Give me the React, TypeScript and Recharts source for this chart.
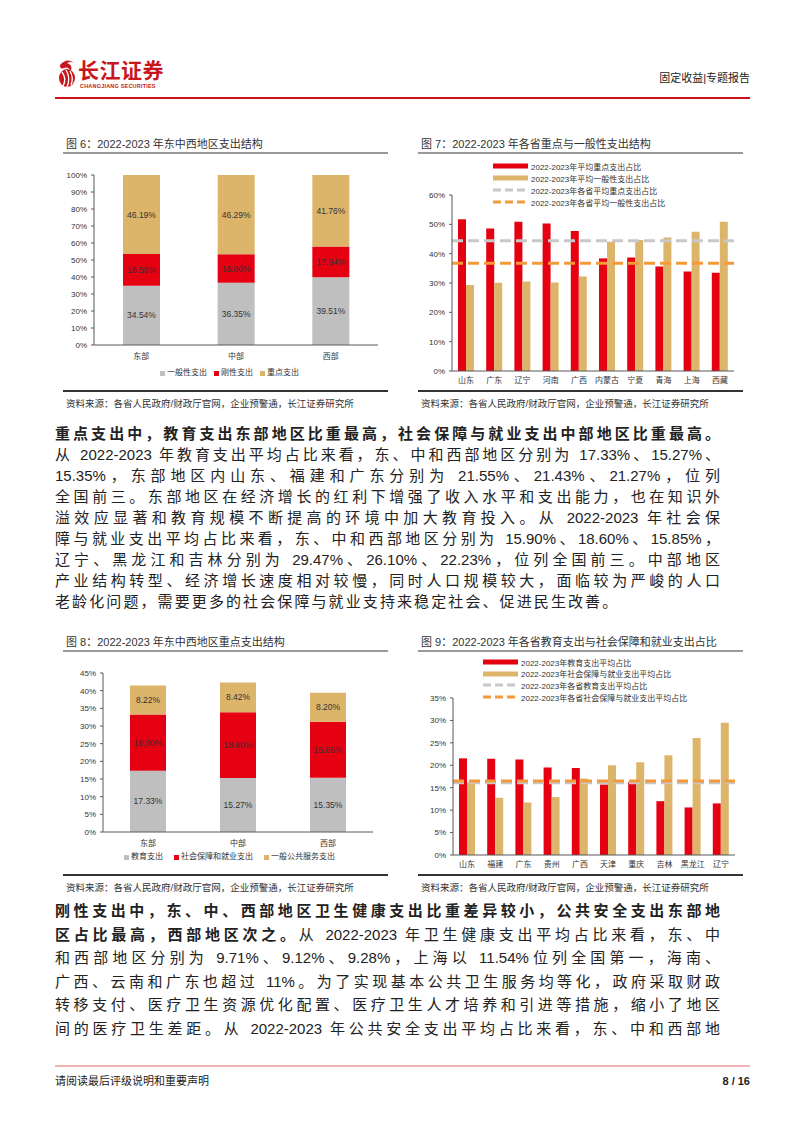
import React from "react";
import { BarChart, Bar, XAxis, YAxis, ReferenceLine, LabelList } from "recharts";

const FONT = '"Liberation Sans", Arial, "Noto Sans CJK SC", sans-serif';
const RED = "#E50012";
const TAN = "#DDB56A";
const GREY = "#BFBFBF";
const AVG_GREY = "#C8C8C8";
const AVG_ORANGE = "#F39A3B";
const AXIS = "#595959";
const TEXT = "#333333";

// 图6 东中西地区支出结构
const regions = ["东部", "中部", "西部"];
const generalShare = [34.54, 36.35, 39.51];
const rigidShare = [18.58, 16.8, 17.94];
const keyShare = [46.19, 46.29, 41.76];

// 图7 各省重点与一般性支出
const provinces7 = ["山东", "广东", "辽宁", "河南", "广西", "内蒙古", "宁夏", "青海", "上海", "西藏"];
const keyAvg7 = [51.7, 48.6, 50.9, 50.3, 47.7, 38.4, 38.7, 35.6, 33.9, 33.5];
const generalAvg7 = [29.3, 30.1, 30.5, 30.2, 32.2, 44.1, 44.7, 45.5, 47.5, 50.9];
const provinceMeans7 = [44.4, 36.7];

// 图8 东中西地区重点支出结构
const eduShare = [17.33, 15.27, 15.35];
const socialShare = [15.9, 18.6, 15.85];
const publicShare = [8.22, 8.42, 8.2];

// 图9 各省教育与社保就业支出
const provinces9 = ["山东", "福建", "广东", "贵州", "广西", "天津", "重庆", "吉林", "黑龙江", "辽宁"];
const eduAvg9 = [21.55, 21.43, 21.27, 19.5, 19.4, 15.7, 16.3, 12.0, 10.6, 11.5];
const socialAvg9 = [16.2, 12.75, 11.7, 12.9, 17.05, 20.0, 20.7, 22.23, 26.1, 29.47];
const provinceMeans9 = [16.1, 16.5];

const sourceText = "资料来源：各省人民政府/财政厅官网，企业预警通，长江证券研究所";

const para1 = [
  "从 2022-2023 年教育支出平均占比来看，东、中和西部地区分别为 17.33%、15.27%、",
  "15.35%，东部地区内山东、福建和广东分别为 21.55%、21.43%、21.27%，位列",
  "全国前三。东部地区在经济增长的红利下增强了收入水平和支出能力，也在知识外",
  "溢效应显著和教育规模不断提高的环境中加大教育投入。从 2022-2023 年社会保",
  "障与就业支出平均占比来看，东、中和西部地区分别为 15.90%、18.60%、15.85%，",
  "辽宁、黑龙江和吉林分别为 29.47%、26.10%、22.23%，位列全国前三。中部地区",
  "产业结构转型、经济增长速度相对较慢，同时人口规模较大，面临较为严峻的人口",
];
const para2 = [
  "和西部地区分别为 9.71%、9.12%、9.28%，上海以 11.54%位列全国第一，海南、",
  "广西、云南和广东也超过 11%。为了实现基本公共卫生服务均等化，政府采取财政",
  "转移支付、医疗卫生资源优化配置、医疗卫生人才培养和引进等措施，缩小了地区",
  "间的医疗卫生差距。从 2022-2023 年公共安全支出平均占比来看，东、中和西部地",
];

const pct = (v: number) => `${v.toFixed(2)}%`;
const tickFont = { fontSize: 8, fill: TEXT, fontFamily: FONT };

function Line({ y, text, bold, last, children }: any) {
  return (
    <div
      style={{
        position: "absolute",
        left: 55,
        top: y - 12,
        width: 665,
        height: 24,
        lineHeight: "24px",
        fontSize: 15,
        color: "#222",
        fontWeight: bold ? 700 : 400,
        textAlign: last ? "left" : "justify",
        textAlignLast: last ? "left" : "justify",
        letterSpacing: last ? 2.1 : 0,
        whiteSpace: "nowrap",
      } as any}
    >
      {children ?? text}
    </div>
  );
}

function FigFrame({ x, y, title, bottom }: { x: number; y: number; title: string; bottom: number }) {
  return (
    <>
      <div style={{ position: "absolute", left: x + 3, top: y - 8, fontSize: 11, lineHeight: "16px", color: TEXT }}>{title}</div>
      <div style={{ position: "absolute", left: x, top: y + 8, width: 325, height: 1.5, background: "#9A9A9A" }} />
      <div style={{ position: "absolute", left: x, top: bottom, width: 325, height: 1.5, background: "#333" }} />
      <div style={{ position: "absolute", left: x + 3, top: bottom + 7, fontSize: 9.5, lineHeight: "14px", color: TEXT }}>{sourceText}</div>
    </>
  );
}

function SquareLegend({ left, top, gap, items }: { left: number; top: number; gap: number; items: [string, string][] }) {
  return (
    <div style={{ position: "absolute", left, top: top - 6, display: "flex", gap, fontSize: 8, lineHeight: "12px", color: TEXT }}>
      {items.map(([c, t]) => (
        <div key={t} style={{ display: "flex", alignItems: "center" }}>
          <span style={{ width: 5, height: 5, background: c, marginRight: 2 }} />
          {t}
        </div>
      ))}
    </div>
  );
}

function LineLegend({ left, top, step, items }: { left: number; top: number; step: number; items: [string, boolean, string][] }) {
  return (
    <>
      {items.map(([c, dashed, t], i) => (
        <div key={t} style={{ position: "absolute", left, top: top + i * step - 6, height: 12, display: "flex", alignItems: "center", fontSize: 8, color: TEXT, whiteSpace: "nowrap" }}>
          <svg width={35} height={6} style={{ marginRight: 3 }}>
            {dashed ? (
              <line x1={0} y1={3} x2={35} y2={3} stroke={c} strokeWidth={3} strokeDasharray="8 4" />
            ) : (
              <rect x={0} y={0.5} width={35} height={5} fill={c} />
            )}
          </svg>
          {t}
        </div>
      ))}
    </>
  );
}

function StackChart({ data, keys, colors, left, top, width, height, yWidth, right, xHeight, domain, ticks, fmt, barSize, expand }: any) {
  return (
    <div style={{ position: "absolute", left, top }}>
      <BarChart
        width={width}
        height={height}
        data={data}
        stackOffset={expand ? "expand" : "none"}
        margin={{ top: 10, right, bottom: 0, left: 0 }}
      >
        <XAxis dataKey="region" height={xHeight} axisLine={{ stroke: AXIS }} tickLine={false} tick={tickFont} interval={0} />
        <YAxis
          width={yWidth}
          domain={domain}
          ticks={ticks}
          tickFormatter={fmt}
          axisLine={{ stroke: AXIS }}
          tickLine={{ stroke: AXIS }}
          tickSize={3}
          tickMargin={4}
          tick={tickFont}
          interval={0}
        />
        {keys.map((k: string, i: number) => (
          <Bar key={k} dataKey={k} stackId="s" fill={colors[i]} barSize={barSize} isAnimationActive={false}>
            <LabelList dataKey={k} position="center" formatter={(v: any) => pct(Number(v))} style={{ fontSize: 8.5, fill: TEXT, fontFamily: FONT }} />
          </Bar>
        ))}
      </BarChart>
    </div>
  );
}

function ProvinceChart({ data, left, top, width, height, yWidth, right, xHeight, max, step, means }: any) {
  const ticks: number[] = [];
  for (let v = 0; v <= max; v += step) ticks.push(v);
  return (
    <div style={{ position: "absolute", left, top }}>
      <BarChart width={width} height={height} data={data} barGap={0} margin={{ top: 10, right, bottom: 0, left: 0 }}>
        <XAxis dataKey="name" height={xHeight} axisLine={{ stroke: AXIS }} tickLine={false} tick={tickFont} interval={0} tickSize={4} tickMargin={2} />
        <YAxis
          width={yWidth}
          domain={[0, max]}
          ticks={ticks}
          tickFormatter={(v: number) => `${v}%`}
          axisLine={{ stroke: AXIS }}
          tickLine={{ stroke: AXIS }}
          tickSize={3}
          tickMargin={4}
          tick={tickFont}
          interval={0}
        />
        <Bar dataKey="a" fill={RED} barSize={8} isAnimationActive={false} />
        <Bar dataKey="b" fill={TAN} barSize={8} isAnimationActive={false} />
        <ReferenceLine y={means[0]} stroke={AVG_GREY} strokeWidth={3} strokeDasharray="11 5" />
        <ReferenceLine y={means[1]} stroke={AVG_ORANGE} strokeWidth={3} strokeDasharray="11 5" />
      </BarChart>
    </div>
  );
}

export default function App() {
  const fig6 = regions.map((r, i) => ({ region: r, general: generalShare[i], rigid: rigidShare[i], key: keyShare[i] }));
  const fig7 = provinces7.map((p, i) => ({ name: p, a: keyAvg7[i], b: generalAvg7[i] }));
  const fig8 = regions.map((r, i) => ({ region: r, edu: eduShare[i], social: socialShare[i], pub: publicShare[i] }));
  const fig9 = provinces9.map((p, i) => ({ name: p, a: eduAvg9[i], b: socialAvg9[i] }));

  const p1y = 434;
  const step1 = 21;
  const p2y = 911;
  const step2 = 23.6;

  return (
    <div style={{ position: "absolute", left: 0, top: 0, width: 802, height: 1133, background: "#fff", fontFamily: FONT, overflow: "hidden" }}>
      {/* header */}
      <svg style={{ position: "absolute", left: 56, top: 57 }} width={22} height={32}>
        <path d="M4 8 Q11 0 18 6 Q14 4 11 6 Q17 8 15 14 Q12 9 8 11 Q4 13 4 8Z" fill="#C8161D" />
        <ellipse cx={11} cy={21} rx={8} ry={9} fill="#C8161D" />
        <path d="M6 15 Q11 22 7 29 M10 13 Q15 21 11 30 M14 14 Q18 21 15 28" stroke="#fff" strokeWidth={1.3} fill="none" />
      </svg>
      <div style={{ position: "absolute", left: 78, top: 58, fontSize: 21, fontWeight: 700, color: "#C8161D", lineHeight: "26px", letterSpacing: 0.5 }}>长江证券</div>
      <div style={{ position: "absolute", left: 80, top: 83, fontSize: 5.5, fontWeight: 700, color: "#C8161D", lineHeight: "7px", letterSpacing: 0.2 }}>CHANGJIANG SECURITIES</div>
      <div style={{ position: "absolute", right: 52, top: 71, fontSize: 11, color: "#222", lineHeight: "14px" }}>固定收益|专题报告</div>
      <div style={{ position: "absolute", left: 55, top: 97, width: 695, height: 2, background: "#D0111B" }} />

      {/* figure 6 */}
      <FigFrame x={63} y={144} title="图 6：2022-2023 年东中西地区支出结构" bottom={390} />
      <StackChart
        data={fig6}
        keys={["general", "rigid", "key"]}
        colors={[GREY, RED, TAN]}
        left={50}
        top={165}
        width={340}
        height={220}
        yWidth={44}
        right={12}
        xHeight={40}
        domain={[0, 1]}
        ticks={[0, 0.1, 0.2, 0.3, 0.4, 0.5, 0.6, 0.7, 0.8, 0.9, 1]}
        fmt={(v: number) => `${Math.round(v * 100)}%`}
        barSize={37}
        expand
      />
      <SquareLegend left={160} top={373} gap={7} items={[[GREY, "一般性支出"], [RED, "刚性支出"], [TAN, "重点支出"]]} />

      {/* figure 7 */}
      <FigFrame x={418} y={144} title="图 7：2022-2023 年各省重点与一般性支出结构" bottom={390} />
      <ProvinceChart data={fig7} left={400} top={185} width={345} height={205} yWidth={52} right={11} xHeight={19} max={60} step={10} means={provinceMeans7} />
      <LineLegend
        left={493}
        top={166}
        step={12}
        items={[
          [RED, false, "2022-2023年平均重点支出占比"],
          [TAN, false, "2022-2023年平均一般性支出占比"],
          [AVG_GREY, true, "2022-2023年各省平均重点支出占比"],
          [AVG_ORANGE, true, "2022-2023年各省平均一般性支出占比"],
        ]}
      />

      {/* text block 1 */}
      <Line y={p1y} bold text="重点支出中，教育支出东部地区比重最高，社会保障与就业支出中部地区比重最高。" />
      {para1.map((t, i) => (
        <Line key={t} y={p1y + (i + 1) * step1} text={t} />
      ))}
      <Line y={p1y + 8 * step1} last text="老龄化问题，需要更多的社会保障与就业支持来稳定社会、促进民生改善。" />

      {/* figure 8 */}
      <FigFrame x={63} y={642} title="图 8：2022-2023 年东中西地区重点支出结构" bottom={874} />
      <StackChart
        data={fig8}
        keys={["edu", "social", "pub"]}
        colors={[GREY, RED, TAN]}
        left={50}
        top={663}
        width={340}
        height={195}
        yWidth={53}
        right={17}
        xHeight={26}
        domain={[0, 45]}
        ticks={[0, 5, 10, 15, 20, 25, 30, 35, 40, 45]}
        fmt={(v: number) => `${v}%`}
        barSize={36}
      />
      <SquareLegend left={124} top={857} gap={11} items={[[GREY, "教育支出"], [RED, "社会保障和就业支出"], [TAN, "一般公共服务支出"]]} />

      {/* figure 9 */}
      <FigFrame x={418} y={642} title="图 9：2022-2023 年各省教育支出与社会保障和就业支出占比" bottom={874} />
      <ProvinceChart data={fig9} left={400} top={688} width={345} height={187} yWidth={53} right={10} xHeight={20} max={35} step={5} means={provinceMeans9} />
      <LineLegend
        left={483}
        top={662}
        step={11.7}
        items={[
          [RED, false, "2022-2023年教育支出平均占比"],
          [TAN, false, "2022-2023年社会保障与就业支出平均占比"],
          [AVG_GREY, true, "2022-2023年各省教育支出平均占比"],
          [AVG_ORANGE, true, "2022-2023年各省社会保障与就业支出平均占比"],
        ]}
      />

      {/* text block 2 */}
      <Line y={p2y} bold text="刚性支出中，东、中、西部地区卫生健康支出比重差异较小，公共安全支出东部地" />
      <Line y={p2y + step2}>
        <b>区占比最高，西部地区次之。</b>从 2022-2023 年卫生健康支出平均占比来看，东、中
      </Line>
      {para2.map((t, i) => (
        <Line key={t} y={p2y + (i + 2) * step2} text={t} />
      ))}

      {/* footer */}
      <div style={{ position: "absolute", left: 55, top: 1065, width: 695, height: 1.5, background: "#F2B3B3" }} />
      <div style={{ position: "absolute", left: 55, top: 1074, fontSize: 11, color: "#222", lineHeight: "14px" }}>请阅读最后评级说明和重要声明</div>
      <div style={{ position: "absolute", right: 52, top: 1074, fontSize: 11, fontWeight: 700, color: "#222", lineHeight: "14px" }}>8 / 16</div>
    </div>
  );
}
